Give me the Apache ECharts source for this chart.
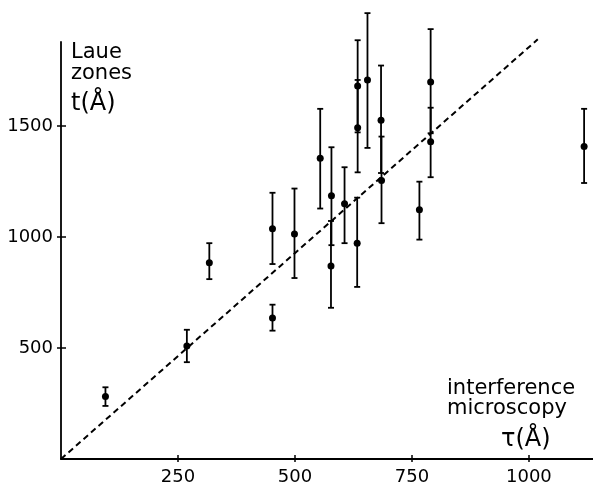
<!DOCTYPE html>
<html>
<head>
    <meta charset="UTF-8">
    <title>Laue zones vs interference microscopy</title>
    <script src="https://cdn.jsdelivr.net/npm/echarts@6.0.0/dist/echarts.min.js"></script>
    <style>
        html, body { margin: 0; padding: 0; background: #fff; }
    </style>
</head>
<body>
    <div id="main" style="width: 593px;height:485px;"></div>
    <script type="text/javascript">
        // 干涉显微镜厚度 tau (Å)
        var tau = [95, 269, 317, 452, 452, 499, 554, 578, 577, 606, 633, 634, 634, 655, 684, 685, 766, 790, 790, 1118];
        // 劳厄带厚度 t (Å)
        var t = [281, 509, 884, 635, 1037, 1013, 1354, 1186, 869, 1149, 972, 1680, 1492, 1707, 1526, 1254, 1123, 1698, 1429, 1407];
        // 误差棒上下限
        var tLow = [239, 436, 810, 578, 878, 815, 1128, 963, 681, 972, 775, 1471, 1291, 1401, 1288, 1062, 988, 1467, 1269, 1243];
        var tHigh = [323, 582, 972, 695, 1199, 1218, 1577, 1404, 1072, 1314, 1177, 1886, 1707, 2008, 1772, 1452, 1249, 1936, 1582, 1577];
        // 虚线
        var lineX = [0, 1019];
        var lineY = [0, 1890];
        // 刻度
        var xTicks = [250, 500, 750, 1000];
        var yTicks = [500, 1000, 1500];

        var font = '"DejaVu Sans", sans-serif';
        var myChart = echarts.init(document.getElementById('main'));

        function renderErrorBar(params, api) {
            var x = api.value(0);
            var pLo = api.coord([x, api.value(1)]);
            var pHi = api.coord([x, api.value(2)]);
            var cap = 3;
            var st = { stroke: '#000', lineWidth: 1.8 };
            return {
                type: 'group',
                children: [
                    { type: 'line', shape: { x1: pLo[0], y1: pLo[1], x2: pHi[0], y2: pHi[1] }, style: st },
                    { type: 'line', shape: { x1: pLo[0] - cap, y1: pLo[1], x2: pLo[0] + cap, y2: pLo[1] }, style: st },
                    { type: 'line', shape: { x1: pHi[0] - cap, y1: pHi[1], x2: pHi[0] + cap, y2: pHi[1] }, style: st }
                ]
            };
        }

        var axisCommon = {
            type: 'value',
            splitLine: { show: false },
            axisLine: { show: true, onZero: false, lineStyle: { color: '#000', width: 1.8 } }
        };

        var option = {
            animation: false,
            backgroundColor: '#fff',
            grid: { left: 61, right: 0, top: 42, bottom: 26, outerBoundsMode: 'none', containLabel: false },
            xAxis: [
                Object.assign({}, axisCommon, {
                    min: 0, max: 1137, interval: 250, position: 'bottom',
                    axisTick: { show: true, inside: true, length: 4, customValues: xTicks, lineStyle: { color: '#000', width: 1.5 } },
                    axisLabel: { customValues: xTicks, formatter: function (v) { return String(v); }, margin: 9, color: '#000', fontSize: 18, fontFamily: font }
                }),
                Object.assign({}, axisCommon, {
                    min: 0, max: 1137, interval: 250, position: 'bottom',
                    axisLine: { show: false },
                    axisTick: { show: true, inside: false, length: 3, customValues: xTicks, lineStyle: { color: '#000', width: 1.5 } },
                    axisLabel: { show: false }
                })
            ],
            yAxis: [
                Object.assign({}, axisCommon, {
                    min: 0, max: 1878, interval: 500, position: 'left',
                    axisTick: { show: true, inside: true, length: 5, customValues: yTicks, lineStyle: { color: '#000', width: 1.5 } },
                    axisLabel: { customValues: yTicks, formatter: function (v) { return String(v); }, margin: 8, color: '#000', fontSize: 18, fontFamily: font }
                }),
                Object.assign({}, axisCommon, {
                    min: 0, max: 1878, interval: 500, position: 'left',
                    axisLine: { show: false },
                    axisTick: { show: true, inside: false, length: 4, customValues: yTicks, lineStyle: { color: '#000', width: 1.5 } },
                    axisLabel: { show: false }
                })
            ],
            graphic: [
                { type: 'text', style: { text: 'Laue\nzones', x: 71, y: 42, font: '21px ' + font, lineHeight: 21, fill: '#000', align: 'left', verticalAlign: 'top' } },
                { type: 'text', style: { text: 't(Å)', x: 71, y: 104, font: '24px ' + font, fill: '#000', align: 'left', verticalAlign: 'middle' } },
                { type: 'text', style: { text: 'interference\nmicroscopy', x: 447, y: 379, font: '21px ' + font, lineHeight: 20, fill: '#000', align: 'left', verticalAlign: 'top' } },
                { type: 'text', style: { text: 'τ(Å)', x: 501, y: 440, font: '24px ' + font, fill: '#000', align: 'left', verticalAlign: 'middle' } }
            ],
            series: [
                {
                    type: 'line',
                    data: lineX.map(function (x, i) { return [x, lineY[i]]; }),
                    showSymbol: false,
                    clip: false,
                    lineStyle: { color: '#000', width: 2, type: [6, 4] },
                    silent: true
                },
                {
                    type: 'custom',
                    data: tau.map(function (x, i) { return [x, tLow[i], tHigh[i]]; }),
                    encode: { x: 0, y: [1, 2] },
                    renderItem: renderErrorBar,
                    clip: false,
                    silent: true
                },
                {
                    type: 'scatter',
                    data: tau.map(function (x, i) { return [x, t[i]]; }),
                    symbol: 'circle',
                    symbolSize: 7,
                    itemStyle: { color: '#000', opacity: 1 },
                    clip: false,
                    silent: true
                }
            ]
        };

        myChart.setOption(option);
    </script>
</body>
</html>
